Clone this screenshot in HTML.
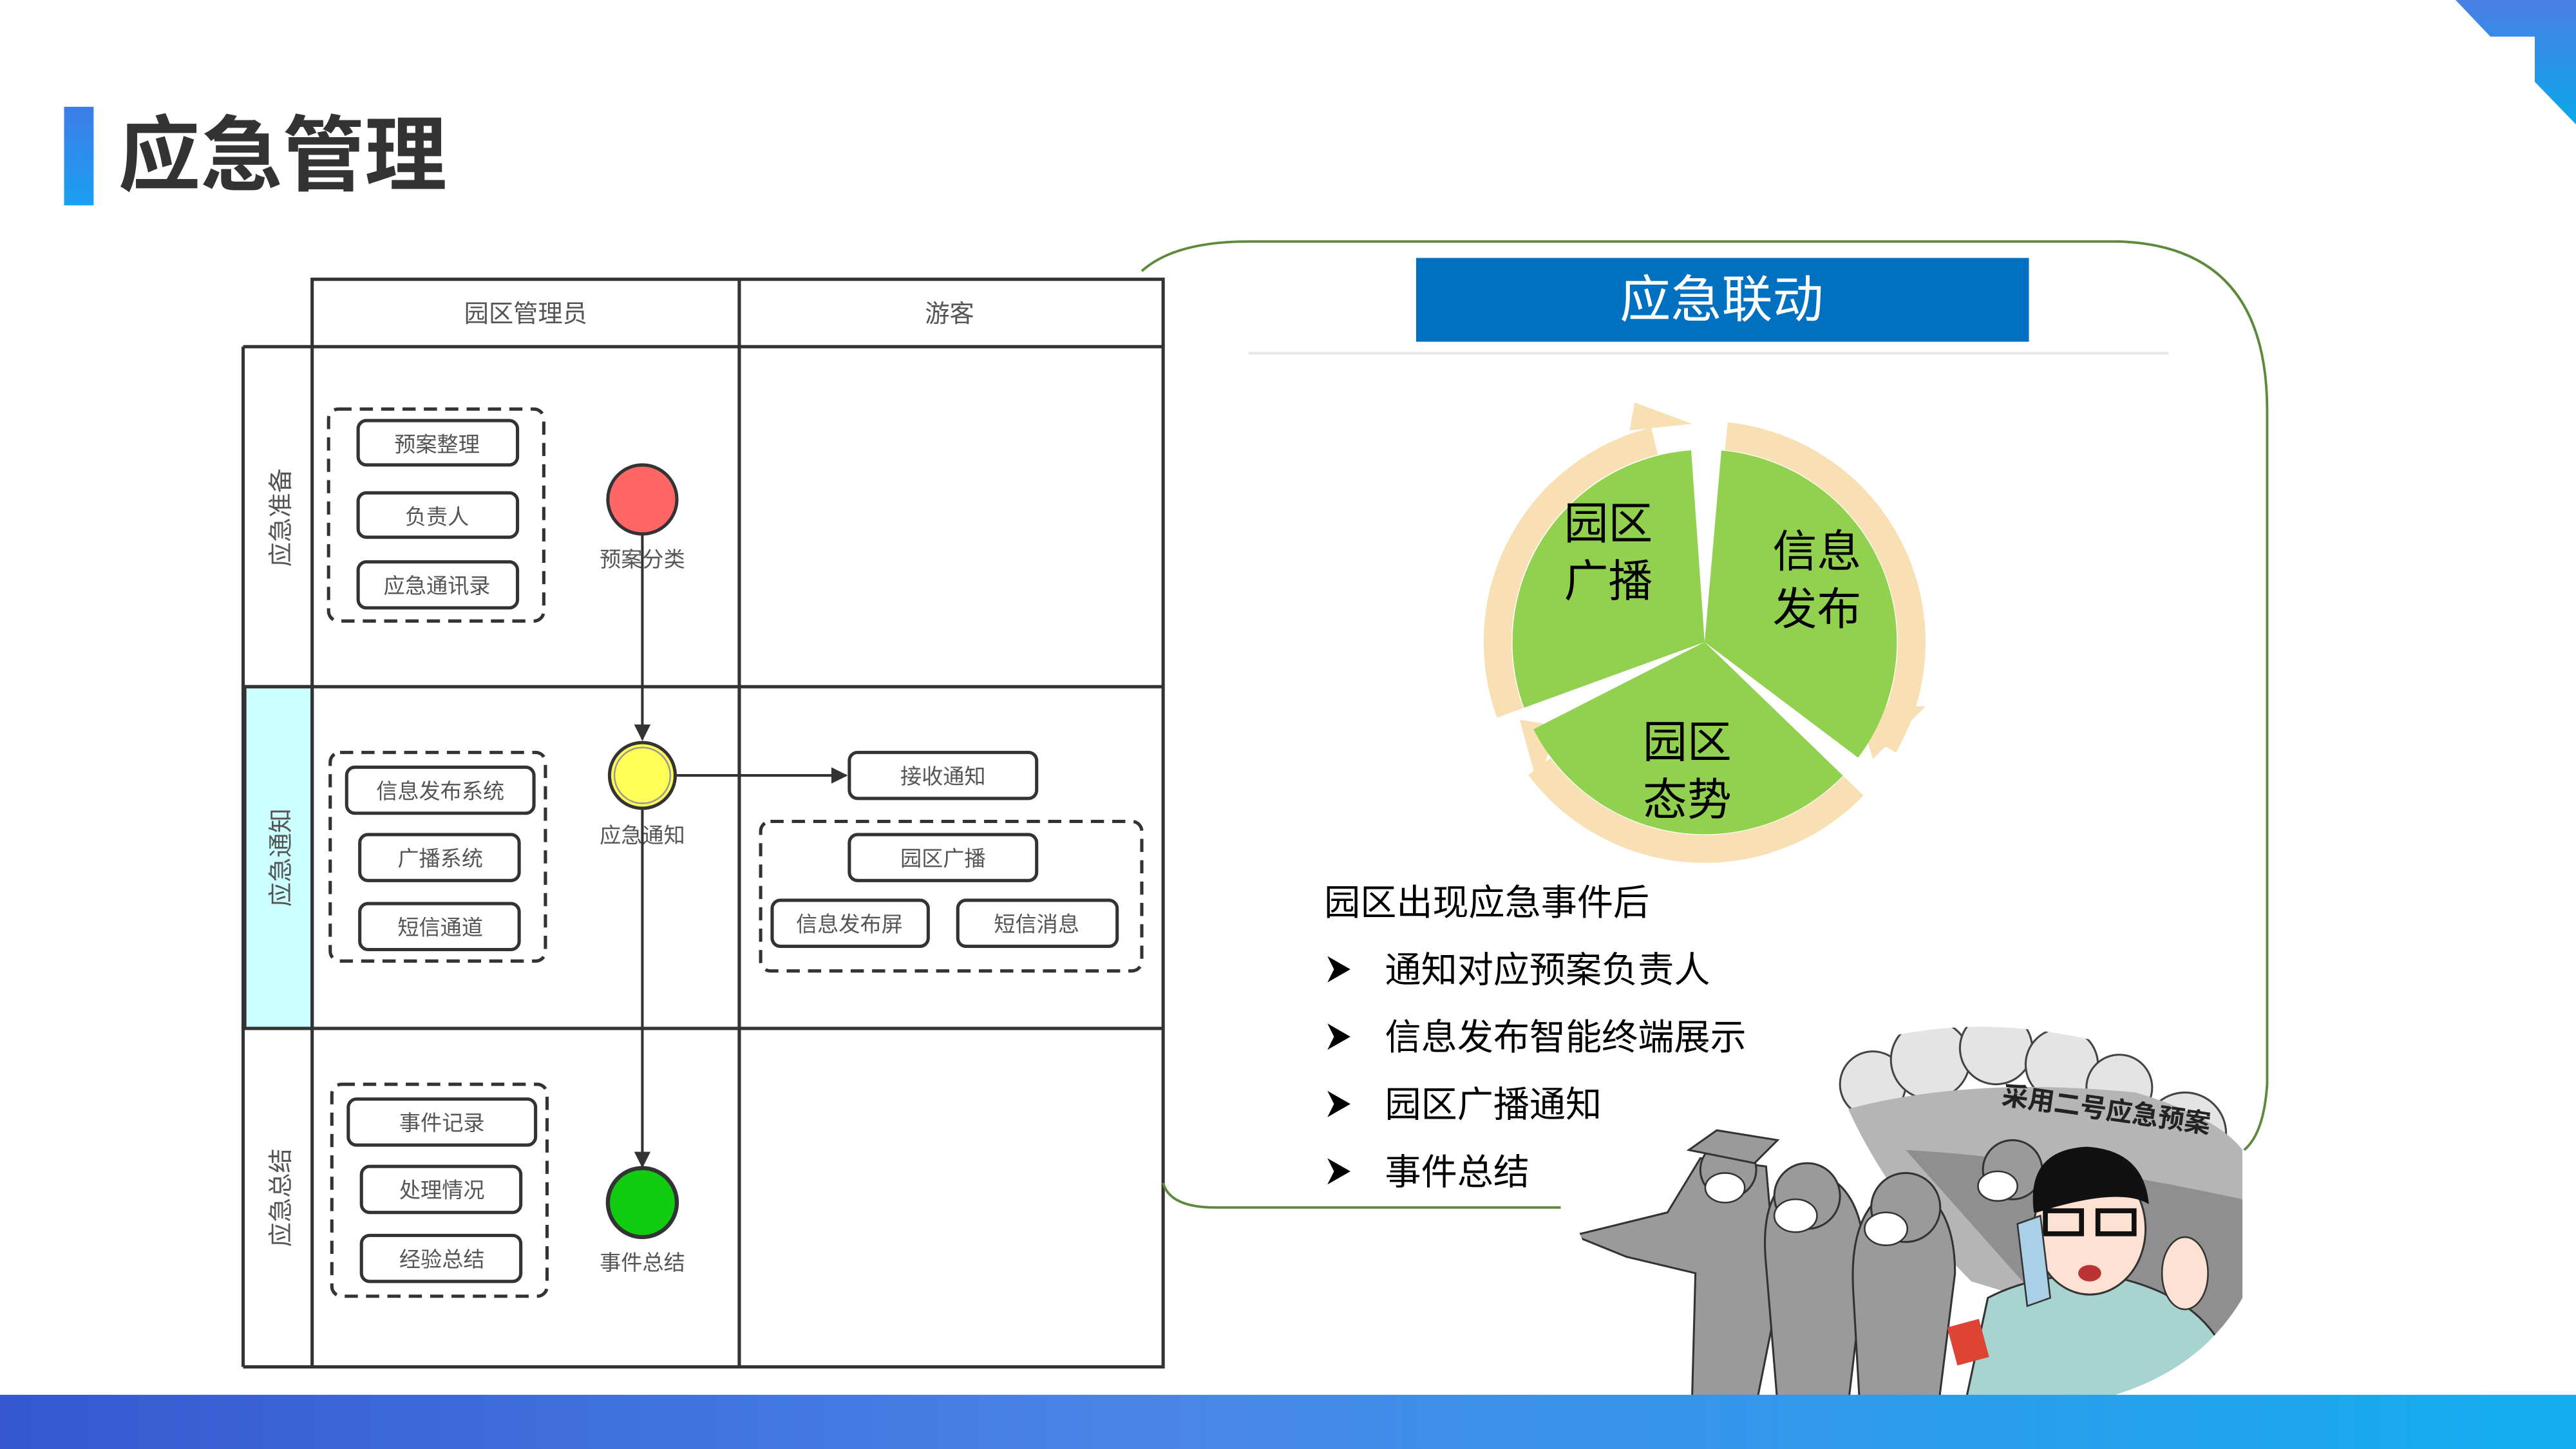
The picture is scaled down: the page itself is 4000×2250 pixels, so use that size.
<!DOCTYPE html>
<html><head><meta charset="utf-8"><style>
html,body{margin:0;padding:0;background:#fff;width:4000px;height:2250px;overflow:hidden}
svg{display:block}
text{font-family:"Liberation Sans","Noto Sans CJK SC",sans-serif}
</style></head><body>
<svg width="4000" height="2250" viewBox="0 0 1568 882" xmlns="http://www.w3.org/2000/svg">
<defs>
<linearGradient id="bb" x1="0" y1="0" x2="1" y2="0"><stop offset="0" stop-color="#3558cf"/><stop offset="0.45" stop-color="#4a86e8"/><stop offset="1" stop-color="#14aef0"/></linearGradient>
<linearGradient id="tr" x1="0" y1="0" x2="0" y2="1"><stop offset="0" stop-color="#4a7fe6"/><stop offset="1" stop-color="#0aa8ea"/></linearGradient>
<linearGradient id="tb" x1="0" y1="0" x2="0" y2="1"><stop offset="0" stop-color="#3d7de8"/><stop offset="1" stop-color="#1aa0f0"/></linearGradient>
<marker id="ar" markerWidth="10" markerHeight="10" refX="9" refY="5" orient="auto" markerUnits="userSpaceOnUse"><path d="M0,0 L10,5 L0,10 z" fill="#333"/></marker>
<clipPath id="cc"><path d="M955,735 Q1000,690 1120,640 Q1200,610 1300,640 Q1365,670 1365,700 L1365,790 Q1330,850 1240,858 L1030,858 Q980,800 955,735 Z"/></clipPath>
</defs>
<polygon points="1494.7,0 1515.9,22.3 1542.9,22.3 1542.9,49.8 1568,75.7 1568,0" fill="url(#tr)"/>
<rect x="39" y="65" width="18" height="60" fill="url(#tb)"/>
<text x="72" y="112" font-size="50" font-weight="bold" fill="#333">应急管理</text>

<!-- swimlane -->
<g stroke="#333" stroke-width="2" fill="none">
<rect x="190" y="170" width="518" height="662"/>
<line x1="450" y1="170" x2="450" y2="832"/>
<line x1="148" y1="211" x2="708" y2="211"/>
<line x1="148" y1="211" x2="148" y2="832"/>
<line x1="148" y1="832" x2="190" y2="832"/>
<line x1="148" y1="418" x2="708" y2="418"/>
<line x1="148" y1="626" x2="708" y2="626"/>
</g>
<rect x="149" y="419" width="40" height="206" fill="#ccffff"/>
<line x1="148" y1="418" x2="190" y2="418" stroke="#333" stroke-width="2"/>
<line x1="148" y1="626" x2="190" y2="626" stroke="#333" stroke-width="2"/>
<line x1="149" y1="418" x2="149" y2="626" stroke="#333" stroke-width="2"/>
<line x1="190" y1="418" x2="190" y2="626" stroke="#333" stroke-width="2"/>
<g font-size="15" fill="#555" text-anchor="middle">
<text x="320" y="196">园区管理员</text>
<text x="578" y="196">游客</text>
<text transform="translate(176,315) rotate(-90)">应急准备</text>
<text transform="translate(176,522) rotate(-90)">应急通知</text>
<text transform="translate(176,729) rotate(-90)">应急总结</text>
</g>
<g stroke="#333" stroke-width="2" fill="none" stroke-dasharray="8,5">
<rect x="200" y="249" width="131" height="129" rx="6"/>
<rect x="201" y="458" width="131" height="127" rx="6"/>
<rect x="202" y="660" width="131" height="129" rx="6"/>
<rect x="463" y="500" width="232" height="91" rx="6"/>
</g>
<g stroke="#333" stroke-width="2" fill="#fff">
<rect x="218" y="256" width="97" height="27" rx="5"/>
<rect x="218" y="300" width="97" height="27" rx="5"/>
<rect x="218" y="342" width="97" height="28" rx="5"/>
<rect x="211" y="467" width="114" height="28" rx="5"/>
<rect x="219" y="508" width="97" height="28" rx="5"/>
<rect x="219" y="550" width="97" height="28" rx="5"/>
<rect x="212" y="669" width="114" height="28" rx="5"/>
<rect x="220" y="710" width="97" height="28" rx="5"/>
<rect x="220" y="752" width="97" height="28" rx="5"/>
<rect x="517" y="458" width="114" height="28" rx="5"/>
<rect x="517" y="508" width="114" height="28" rx="5"/>
<rect x="470" y="548" width="95" height="28" rx="5"/>
<rect x="583" y="548" width="97" height="28" rx="5"/>
</g>
<g font-size="13" fill="#555" text-anchor="middle">
<text x="266" y="275">预案整理</text>
<text x="266" y="319">负责人</text>
<text x="266" y="361">应急通讯录</text>
<text x="268" y="486">信息发布系统</text>
<text x="268" y="527">广播系统</text>
<text x="268" y="569">短信通道</text>
<text x="269" y="688">事件记录</text>
<text x="269" y="729">处理情况</text>
<text x="269" y="771">经验总结</text>
<text x="574" y="477">接收通知</text>
<text x="574" y="527">园区广播</text>
<text x="517" y="567">信息发布屏</text>
<text x="631" y="567">短信消息</text>
<text x="391" y="345">预案分类</text>
<text x="391" y="513">应急通知</text>
<text x="391" y="773">事件总结</text>
</g>
<g stroke="#333" stroke-width="1.6">
<line x1="391" y1="325" x2="391" y2="450" marker-end="url(#ar)"/>
<line x1="391" y1="493" x2="391" y2="710" marker-end="url(#ar)"/>
<line x1="412" y1="472" x2="515" y2="472" marker-end="url(#ar)"/>
</g>
<circle cx="391" cy="304" r="21" fill="#ff6666" stroke="#333" stroke-width="2"/>
<circle cx="391" cy="472" r="20" fill="#ffff55" stroke="#333" stroke-width="2"/>
<circle cx="391" cy="472" r="17" fill="none" stroke="#999" stroke-width="1"/>
<circle cx="391" cy="732" r="21" fill="#11cc11" stroke="#333" stroke-width="2.5"/>

<path d="M695,165 Q715,147 760,147 L1290,147 Q1380,150 1380,250 L1380,660 Q1378,690 1366,700" fill="none" stroke="#5a8a3a" stroke-width="1.5"/>
<path d="M708,720 Q712,735 740,735 L950,735" fill="none" stroke="#5a8a3a" stroke-width="1.5"/>
<rect x="862" y="157" width="373" height="51" fill="#0070c0"/>
<text x="1048" y="193" font-size="31" fill="#fff" text-anchor="middle">应急联动</text>
<line x1="760" y1="215" x2="1320" y2="215" stroke="#e6e6e6" stroke-width="1.5"/>

<!-- pie -->
<g fill="none" stroke="#f8e0b4" stroke-width="17">
<path d="M1050.8,265.5 A126,126 0 0 1 1146.7,453.8"/>
<path d="M1128.2,478.3 A126,126 0 0 1 937.0,466.6"/>
<path d="M919.2,433.9 A126,126 0 0 1 1007.1,268.5"/>
</g>
<g fill="#f8e0b4">
<polygon points="1130,430 1172,430 1140,462"/>
<polygon points="948,442 936,478 925,438"/>
<polygon points="992,262 995,245 1030,258"/>
</g>
<g fill="#92d050">
<path d="M1037.6,390.8 L1047.8,274.2 A117,117 0 0 1 1131.0,461.2 Z"/>
<path d="M1037.6,390.8 L1121.8,472.1 A117,117 0 0 1 933.4,443.9 Z"/>
<path d="M1037.6,390.8 L927.7,430.8 A117,117 0 0 1 1029.4,274.1 Z"/>
</g>
<g font-size="27" fill="#000" text-anchor="middle">
<text x="979" y="328">园区</text><text x="979" y="363">广播</text>
<text x="1106" y="345">信息</text><text x="1106" y="380">发布</text>
<text x="1027" y="461">园区</text><text x="1027" y="496">态势</text>
</g>

<g font-size="22" fill="#000">
<text x="806" y="557">园区出现应急事件后</text>
<text x="843" y="598">通知对应预案负责人</text>
<text x="843" y="639">信息发布智能终端展示</text>
<text x="843" y="680">园区广播通知</text>
<text x="843" y="721">事件总结</text>
</g>
<g fill="#000">
<polygon points="808,582 822,590 808,598 812,590"/>
<polygon points="808,623 822,631 808,639 812,631"/>
<polygon points="808,664 822,672 808,680 812,672"/>
<polygon points="808,705 822,713 808,721 812,713"/>
</g>

<!-- cartoon approximation -->
<g clip-path="url(#cc)">
<rect x="950" y="600" width="420" height="260" fill="#fff"/>
<g fill="#e4e4e4" stroke="#444" stroke-width="1.2">
<circle cx="1140" cy="660" r="20"/><circle cx="1175" cy="645" r="24"/><circle cx="1215" cy="638" r="22"/><circle cx="1255" cy="648" r="22"/><circle cx="1290" cy="662" r="20"/><circle cx="1330" cy="690" r="25"/>
</g>
<path d="M1125,675 Q1200,655 1300,665 Q1350,680 1365,700 L1365,830 L1200,780 Q1150,730 1125,675 Z" fill="#b5b5b5"/>
<path d="M1160,700 Q1250,705 1365,730 L1365,830 L1240,790 Z" fill="#8f8f8f"/>
<text transform="translate(1218,672) rotate(8)" font-size="16" font-weight="bold" fill="#222">采用二号应急预案</text>
<g fill="#9a9a9a" stroke="#333" stroke-width="1.2">
<path d="M958,752 L1015,738 L1035,705 L1075,710 L1082,790 L1070,850 L1030,850 L1032,775 L990,765 Z"/>
<circle cx="1052" cy="712" r="17"/>
<path d="M1028,700 L1045,688 L1082,694 L1068,708 Z"/>
<path d="M1075,770 Q1070,720 1100,712 Q1135,718 1135,770 L1125,855 L1082,855 Z"/>
<circle cx="1100" cy="728" r="20"/>
<path d="M1128,785 Q1125,730 1160,720 Q1190,730 1190,775 L1180,855 L1132,855 Z"/>
<circle cx="1160" cy="735" r="21"/>
<circle cx="1225" cy="712" r="18"/>
</g>
<g fill="#fff" stroke="#333" stroke-width="1">
<ellipse cx="1050" cy="723" rx="12" ry="9"/><ellipse cx="1093" cy="740" rx="13" ry="10"/><ellipse cx="1148" cy="748" rx="13" ry="10"/><ellipse cx="1216" cy="722" rx="12" ry="9"/>
</g>
<path d="M1195,860 L1210,790 Q1245,772 1290,778 Q1340,790 1355,825 L1330,860 Z" fill="#a8d4d0" stroke="#333" stroke-width="1.2"/>
<ellipse cx="1272" cy="748" rx="34" ry="40" fill="#fde2d3" stroke="#333" stroke-width="1.2"/>
<path d="M1238,738 Q1233,700 1270,698 Q1305,700 1308,733 Q1290,722 1240,738 Z" fill="#111"/>
<rect x="1245" y="737" width="22" height="14" fill="none" stroke="#111" stroke-width="3"/>
<rect x="1277" y="737" width="22" height="14" fill="none" stroke="#111" stroke-width="3"/>
<ellipse cx="1272" cy="775" rx="7" ry="5" fill="#b33"/>
<path d="M1228,745 L1242,740 L1248,790 L1234,795 Z" fill="#aad0e8" stroke="#333"/>
<rect x="1188" y="805" width="20" height="24" fill="#d43" transform="rotate(-15 1198 817)"/>
<ellipse cx="1330" cy="775" rx="14" ry="22" fill="#fde2d3" stroke="#333"/>
</g>
<rect x="0" y="849" width="1568" height="33" fill="url(#bb)"/>
</svg>
</body></html>
